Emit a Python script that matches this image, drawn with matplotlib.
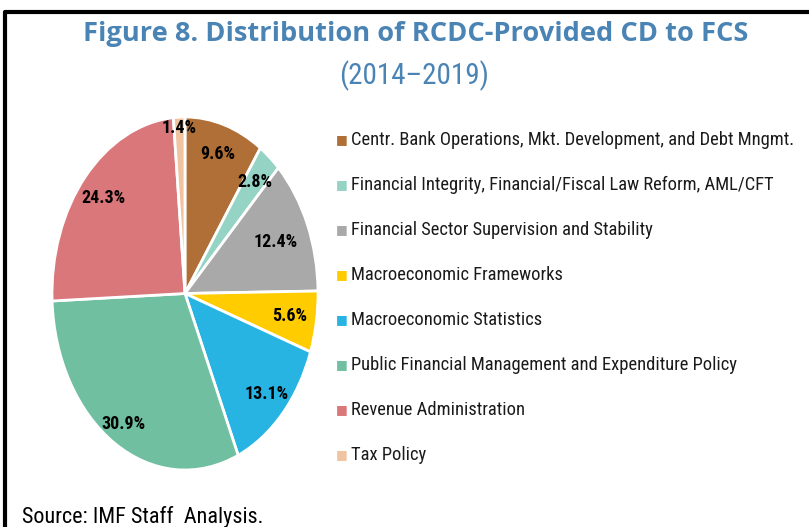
import matplotlib
matplotlib.use("Agg")
import matplotlib.pyplot as plt
from matplotlib import font_manager
from matplotlib.lines import Line2D
import numpy as np

# ------------------------------- Données ------------------------------- #

categories = [
    "Centr. Bank Operations, Mkt. Development, and Debt Mngmt.",
    "Financial Integrity, Financial/Fiscal Law Reform, AML/CFT",
    "Financial Sector Supervision and Stability",
    "Macroeconomic Frameworks",
    "Macroeconomic Statistics",
    "Public Financial Management and Expenditure Policy",
    "Revenue Administration",
    "Tax Policy",
]
shares = [9.6, 2.8, 12.4, 5.6, 13.1, 30.9, 24.3, 1.4]

colors = ["#B06F36", "#95D3C4", "#A9A9A9", "#FFCC00",
          "#27B4E2", "#70BFA0", "#D9777A", "#F1C4A1"]
label_r = [0.83, 0.82, 0.74, 0.80, 0.84, 0.87, 0.82, 0.94]

names = {f.name for f in font_manager.fontManager.ttflist}
FONT = "Roboto"
for f in ["Roboto Condensed", "Liberation Sans Narrow", "Roboto"]:
    if f in names:
        FONT = f
        break
TITLE_BLUE = "#4A84B4"

# ------------------------------- Figure -------------------------------- #

W, H = 809, 527
fig = plt.figure(figsize=(W / 100, H / 100), dpi=100)
fig.patch.set_facecolor("white")

# pie box in pixels: left 52, right 318, top 117, bottom 470
ax = fig.add_axes([52 / W, (H - 470) / H, 266 / W, 353 / H])
wedges, _ = ax.pie(shares, colors=colors, startangle=90, counterclock=False,
                   radius=1.0, wedgeprops=dict(edgecolor="white", linewidth=2))
ax.set_aspect("auto")
ax.set_xlim(-1, 1)
ax.set_ylim(-1, 1)
ax.axis("off")

total = sum(shares)
debut = 90.0
for v, r in zip(shares, label_r):
    mid = np.radians(debut - 180 * v / total)
    debut -= 360 * v / total
    ax.text(r * np.cos(mid), r * np.sin(mid), f"{v:.1f}%", ha="center",
            va="center", fontsize=13, fontweight="bold", family=FONT, color="black")

# légende à droite
for i, (nom, c) in enumerate(zip(categories, colors)):
    y = (H - (140 + 45 * i)) / H
    fig.text(336 / W, y, "\u25A0", color=c, fontsize=9, ha="left", va="center")
    fig.text(351 / W, y, nom, fontsize=13.3, family=FONT, ha="left",
             va="center", color="#1a1a1a")

# titres
fig.text(0.514, (H - 34) / H, "Figure 8. Distribution of RCDC-Provided CD to FCS",
         ha="center", va="center", fontsize=19.6, fontweight="bold",
         family="Open Sans", color=TITLE_BLUE)
fig.text(0.512, (H - 76) / H, "(2014\u20132019)", ha="center", va="center",
         fontsize=21, family=FONT, color=TITLE_BLUE)

fig.text(22 / W, (H - 517) / H, "Source: IMF Staff  Analysis.", ha="left",
         va="center", fontsize=15.9, family=FONT, color="black")

# cadre
fig.add_artist(Line2D([5 / W, 5 / W, 1.0], [0.0, (H - 11.5) / H, (H - 11.5) / H],
                      transform=fig.transFigure, color="black", linewidth=3))

fig.savefig("out.png", dpi=100)
